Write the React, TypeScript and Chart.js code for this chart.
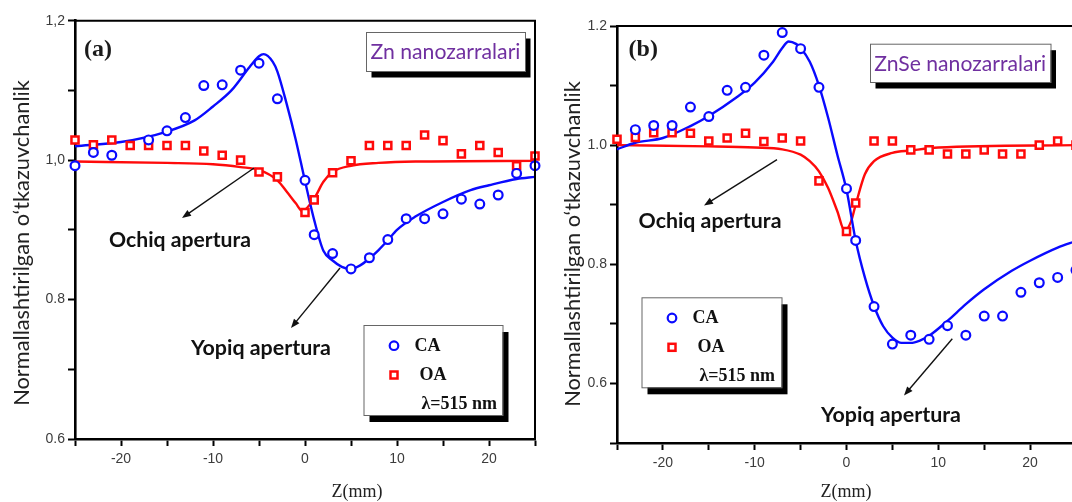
import React, { useEffect, useRef } from 'react';
import { Chart, registerables } from 'chart.js';
Chart.register(...registerables);

// ---------- Panel (a): Zn nanozarralari ----------
const zCA_A = [-25, -23, -21, -17, -15, -13, -11, -9, -7, -5, -3, 0, 1, 3, 5, 7, 9, 11, 13, 15, 17, 19, 21, 23, 25];
const caA = [0.992, 1.011, 1.007, 1.029, 1.042, 1.061, 1.107, 1.108, 1.129, 1.139, 1.088, 0.971, 0.893, 0.866, 0.844, 0.860, 0.886, 0.916, 0.916, 0.923, 0.944, 0.937, 0.950, 0.981, 0.992];
const zOA_A = [-25, -23, -21, -19, -17, -15, -13, -11, -9, -7, -5, -3, 0, 1, 3, 5, 7, 9, 11, 13, 15, 17, 19, 21, 23, 25];
const oaA = [1.029, 1.022, 1.029, 1.021, 1.021, 1.021, 1.021, 1.013, 1.007, 1.000, 0.983, 0.976, 0.925, 0.943, 0.982, 0.999, 1.021, 1.021, 1.021, 1.036, 1.028, 1.009, 1.021, 1.011, 0.992, 1.006];
const zFitCA_A = [-25, -20, -15, -12, -10, -8, -6, -5, -4.5, -3.5, -3, -2, -1, 0, 1, 2, 3, 4, 5, 6, 7, 8, 9, 10, 12, 15, 18, 20, 23, 25];
const fitCA_A = [1.020, 1.026, 1.041, 1.057, 1.077, 1.100, 1.134, 1.149, 1.152, 1.141, 1.127, 1.081, 1.029, 0.970, 0.914, 0.870, 0.856, 0.847, 0.844, 0.849, 0.859, 0.871, 0.885, 0.900, 0.919, 0.940, 0.957, 0.964, 0.973, 0.976];
const zFitOA_A = [-25, -15, -10, -7, -5, -3, -2, -1, -0.3, 1, 2, 3, 5, 8, 12, 25];
const fitOA_A = [0.998, 0.996, 0.994, 0.990, 0.986, 0.971, 0.955, 0.938, 0.927, 0.945, 0.969, 0.983, 0.992, 0.996, 0.998, 0.999];

// ---------- Panel (b): ZnSe nanozarralari ----------
const zCA_B = [-23, -21, -19, -17, -15, -13, -11, -9, -7, -5, -3, 0, 1, 3, 5, 7, 9, 11, 13, 15, 17, 19, 21, 23, 25];
const caB = [1.026, 1.033, 1.033, 1.064, 1.048, 1.092, 1.097, 1.151, 1.189, 1.162, 1.097, 0.927, 0.840, 0.729, 0.666, 0.681, 0.674, 0.697, 0.681, 0.713, 0.713, 0.753, 0.769, 0.778, 0.790];
const zOA_B = [-25, -23, -21, -19, -17, -15, -13, -11, -9, -7, -5, -3, 0, 1, 3, 5, 7, 9, 11, 13, 15, 17, 19, 21, 23, 25];
const oaB = [1.010, 1.013, 1.021, 1.021, 1.020, 1.007, 1.012, 1.020, 1.006, 1.012, 1.007, 0.940, 0.855, 0.903, 1.007, 1.007, 0.992, 0.992, 0.985, 0.985, 0.992, 0.985, 0.985, 1.000, 1.007, 1.000];
const zFitCA_B = [-25, -23, -20, -17, -15, -12, -10, -8, -7, -6.3, -5.5, -5, -4, -3, -2, -1, 0, 1, 2, 3, 4, 5, 6, 7, 8, 9, 11, 13, 15, 18, 20, 23, 25];
const fitCA_B = [0.993, 1.004, 1.012, 1.032, 1.049, 1.080, 1.105, 1.140, 1.163, 1.174, 1.170, 1.163, 1.140, 1.100, 1.046, 0.984, 0.925, 0.840, 0.778, 0.730, 0.696, 0.677, 0.668, 0.668, 0.672, 0.680, 0.705, 0.733, 0.758, 0.789, 0.806, 0.828, 0.839];
const zFitOA_B = [-25, -15, -10, -7, -5, -4, -3, -2, -1, -0.2, 0.5, 1, 2, 3, 5, 7, 10, 25];
const fitOA_B = [1.000, 0.998, 0.996, 0.993, 0.984, 0.973, 0.956, 0.928, 0.889, 0.856, 0.872, 0.900, 0.951, 0.973, 0.987, 0.991, 0.996, 1.000];

// ---------- Tick labels ----------
const xTickVals = [-20, -10, 0, 10, 20];
const yTickValsA = [0.6, 0.8, 1.0, 1.2];
const yTickLabelsA = ['0.6', '0.8', '1,0', '1,2'];
const yTickValsB = [0.6, 0.8, 1.0, 1.2];
const yTickLabelsB = ['0.6', '0.8', '1.0', '1.2'];

const BLUE = '#0a0aff';
const RED = '#ff0a0a';
const H = 502;

const pts = (xs: number[], ys: number[]) => xs.map((x, i) => ({ x, y: ys[i] }));

function fitText(ctx: CanvasRenderingContext2D, text: string, font: (s: number) => string, targetW: number, x: number, y: number, color: string, align: CanvasTextAlign = 'center') {
  ctx.font = font(100);
  const w = ctx.measureText(text).width;
  const size = (100 * targetW) / w;
  ctx.font = font(size);
  ctx.fillStyle = color;
  ctx.textAlign = align;
  ctx.textBaseline = 'middle';
  ctx.fillText(text, x, y);
}

function arrow(ctx: CanvasRenderingContext2D, x1: number, y1: number, x2: number, y2: number) {
  const a = Math.atan2(y2 - y1, x2 - x1);
  const L = 9, W = 3.5;
  ctx.strokeStyle = '#111';
  ctx.lineWidth = 1.4;
  ctx.beginPath();
  ctx.moveTo(x1, y1);
  ctx.lineTo(x2 - Math.cos(a) * L * 0.8, y2 - Math.sin(a) * L * 0.8);
  ctx.stroke();
  ctx.fillStyle = '#111';
  ctx.beginPath();
  ctx.moveTo(x2, y2);
  ctx.lineTo(x2 - Math.cos(a) * L - Math.sin(a) * W, y2 - Math.sin(a) * L + Math.cos(a) * W);
  ctx.lineTo(x2 - Math.cos(a) * L + Math.sin(a) * W, y2 - Math.sin(a) * L - Math.cos(a) * W);
  ctx.closePath();
  ctx.fill();
}

function shadowBox(ctx: CanvasRenderingContext2D, x: number, y: number, w: number, h: number, dx: number, dy: number) {
  ctx.fillStyle = '#000';
  ctx.fillRect(x + dx, y + dy, w, h);
  ctx.fillStyle = '#fff';
  ctx.fillRect(x, y, w, h);
  ctx.strokeStyle = '#666';
  ctx.lineWidth = 1;
  ctx.strokeRect(x + 0.5, y + 0.5, w, h);
}

type Deco = {
  tag: string; tagX: number; tagY: number;
  boxText: string; box: number[]; boxTextW: number;
  ochiq: number[]; ochiqArrow: number[];
  yopiq: number[]; yopiqArrow: number[];
  legend: number[];
  yTitle: number[];
  xTitle: number[];
};

type Panel = {
  left: number; width: number;
  area: { l: number; r: number; t: number; b: number };
  yMin: number; yMax: number;
  yVals: number[]; yLabels: string[];
  ca: { x: number; y: number }[]; oa: { x: number; y: number }[];
  fitCa: { x: number; y: number }[]; fitOa: { x: number; y: number }[];
  deco: Deco;
};

const panels: Panel[] = [
  {
    left: 0, width: 545,
    area: { l: 75, r: 535, t: 20.7, b: 439 },
    yMin: 0.6, yMax: 1.2, yVals: yTickValsA, yLabels: yTickLabelsA,
    ca: pts(zCA_A, caA), oa: pts(zOA_A, oaA), fitCa: pts(zFitCA_A, fitCA_A), fitOa: pts(zFitOA_A, fitOA_A),
    deco: {
      tag: '(a)', tagX: 84, tagY: 50,
      boxText: 'Zn nanozarralari', box: [366, 32, 159, 39], boxTextW: 150,
      ochiq: [180, 240, 142], ochiqArrow: [254, 168, 182, 218],
      yopiq: [261, 348, 140], yopiqArrow: [340, 268, 291, 328],
      legend: [363.5, 325, 139, 90],
      yTitle: [22, 243, 326],
      xTitle: [357, 492, 51],
    },
  },
  {
    left: 545, width: 545,
    area: { l: 617, r: 1076, t: 26, b: 443 },
    yMin: 0.5, yMax: 1.2, yVals: yTickValsB, yLabels: yTickLabelsB,
    ca: pts(zCA_B, caB), oa: pts(zOA_B, oaB), fitCa: pts(zFitCA_B, fitCA_B), fitOa: pts(zFitOA_B, fitOA_B),
    deco: {
      tag: '(b)', tagX: 628.6, tagY: 49.4,
      boxText: 'ZnSe nanozarralari', box: [870, 43.7, 180.5, 38.3], boxTextW: 172,
      ochiq: [710, 221.5, 143], ochiqArrow: [777, 159.7, 704, 205.5],
      yopiq: [891, 415, 140], yopiqArrow: [952.3, 338.8, 904, 395.5],
      legend: [641.5, 297.3, 140, 90],
      yTitle: [573, 244, 326],
      xTitle: [846, 492, 51],
    },
  },
];

function makeDecoPlugin(p: Panel) {
  return {
    id: 'deco',
    afterDraw(chart: any) {
      const ctx: CanvasRenderingContext2D = chart.ctx;
      const ca = chart.chartArea;
      const d = p.deco;
      ctx.save();
      ctx.translate(-p.left, 0);
      const ox = p.left;
      // frame (top & right)
      ctx.strokeStyle = '#000';
      ctx.lineWidth = 2;
      ctx.beginPath();
      ctx.moveTo(ca.left + ox, ca.top);
      ctx.lineTo(ca.right + ox, ca.top);
      ctx.lineTo(ca.right + ox, ca.bottom);
      ctx.stroke();

      // tag
      ctx.font = 'bold 24px "Liberation Serif"';
      ctx.fillStyle = '#1a1a1a';
      ctx.textAlign = 'left';
      ctx.textBaseline = 'middle';
      ctx.fillText(d.tag, d.tagX, d.tagY);

      // sample name box
      const [bx, by, bw, bh] = d.box;
      shadowBox(ctx, bx, by, bw, bh, 5.5, 6.5);
      fitText(ctx, d.boxText, (s) => `${s}px "Lato"`, d.boxTextW, bx + bw / 2, by + bh / 2 + 1, '#7030a0');

      // annotations
      fitText(ctx, 'Ochiq apertura', (s) => `bold ${s}px "Lato"`, d.ochiq[2], d.ochiq[0], d.ochiq[1], '#111');
      arrow(ctx, d.ochiqArrow[0], d.ochiqArrow[1], d.ochiqArrow[2], d.ochiqArrow[3]);
      fitText(ctx, 'Yopiq apertura', (s) => `bold ${s}px "Lato"`, d.yopiq[2], d.yopiq[0], d.yopiq[1], '#111');
      arrow(ctx, d.yopiqArrow[0], d.yopiqArrow[1], d.yopiqArrow[2], d.yopiqArrow[3]);

      // legend
      const [lx, ly, lw, lh] = d.legend;
      shadowBox(ctx, lx, ly, lw, lh, 6, 7);
      ctx.strokeStyle = BLUE;
      ctx.lineWidth = 2.2;
      ctx.beginPath();
      ctx.arc(lx + 30.5, ly + 20.7, 4.3, 0, Math.PI * 2);
      ctx.stroke();
      ctx.strokeStyle = RED;
      ctx.lineWidth = 2.5;
      ctx.strokeRect(lx + 30.5 - 3.5, ly + 50 - 3.5, 7, 7);
      ctx.fillStyle = '#111';
      ctx.font = 'bold 18px "Liberation Serif"';
      ctx.textAlign = 'left';
      ctx.textBaseline = 'middle';
      ctx.fillText('CA', lx + 51, ly + 21);
      ctx.fillText('OA', lx + 56, ly + 50);
      ctx.fillText('λ=515 nm', lx + 58, ly + 79.5);

      // axis titles
      ctx.save();
      ctx.translate(d.yTitle[0], d.yTitle[1]);
      ctx.rotate(-Math.PI / 2);
      fitText(ctx, 'Normallashtirilgan o‘tkazuvchanlik', (s) => `${s}px "Lato"`, d.yTitle[2], 0, 0, '#222');
      ctx.restore();
      fitText(ctx, 'Z(mm)', (s) => `${s}px "Liberation Serif"`, d.xTitle[2], d.xTitle[0], d.xTitle[1], '#222');
      ctx.restore();
    },
  };
}

function PanelChart({ p }: { p: Panel }) {
  const ref = useRef<HTMLCanvasElement>(null);
  useEffect(() => {
    if (!ref.current) return;
    const tickFont = { family: '"Liberation Sans"', size: 14 };
    const chart = new Chart(ref.current, {
      type: 'scatter',
      data: {
        datasets: [
          { type: 'line', data: p.fitCa, borderColor: BLUE, borderWidth: 2.4, pointRadius: 0, cubicInterpolationMode: 'monotone', fill: false, order: 3 } as any,
          { type: 'line', data: p.fitOa, borderColor: RED, borderWidth: 2.4, pointRadius: 0, cubicInterpolationMode: 'monotone', fill: false, order: 4 } as any,
          { data: p.oa, pointStyle: 'rect', pointRadius: 5, pointBorderWidth: 2.5, borderColor: RED, backgroundColor: '#fff', order: 2, clip: false } as any,
          { data: p.ca, pointStyle: 'circle', pointRadius: 4.4, pointBorderWidth: 2.2, borderColor: BLUE, backgroundColor: '#fff', order: 1, clip: false } as any,
        ],
      },
      options: {
        responsive: false,
        animation: false,
        devicePixelRatio: 1,
        layout: { padding: { top: p.area.t, right: p.left + p.width - p.area.r, left: 0, bottom: 0 } },
        plugins: { legend: { display: false }, tooltip: { enabled: false } },
        scales: {
          x: {
            type: 'linear', min: -25, max: 25,
            ticks: {
              stepSize: 5, autoSkip: false, maxRotation: 0, padding: 5, color: '#3c3c3c', font: tickFont,
              callback: (v: any) => (xTickVals.some((t) => Math.abs(t - v) < 1e-6) ? String(Math.round(v)) : ''),
            },
            grid: { drawOnChartArea: false, drawTicks: true, tickLength: 7, tickColor: '#000', tickWidth: 2 },
            border: { color: '#000', width: 2.6 },
            afterFit: (s: any) => { s.height = H - p.area.b; },
          },
          y: {
            type: 'linear', min: p.yMin, max: p.yMax,
            ticks: {
              stepSize: 0.1, autoSkip: false, padding: 3, color: '#3c3c3c', font: tickFont,
              callback: (v: any) => {
                const i = p.yVals.findIndex((t) => Math.abs(t - v) < 1e-6);
                return i >= 0 ? p.yLabels[i] : '';
              },
            },
            grid: { drawOnChartArea: false, drawTicks: true, tickLength: 7, tickColor: '#000', tickWidth: 2 },
            border: { color: '#000', width: 2.6 },
            afterFit: (s: any) => { s.width = p.area.l - p.left; },
          },
        },
      } as any,
      plugins: [makeDecoPlugin(p)],
    });
    return () => chart.destroy();
  }, [p]);
  return (
    <canvas
      ref={ref}
      width={p.width}
      height={H}
      style={{ position: 'absolute', left: p.left, top: 0, width: p.width, height: H }}
    />
  );
}

export default function App() {
  return (
    <div style={{ position: 'fixed', left: 0, top: 0, width: 1072, height: H, overflow: 'hidden', background: '#fff' }}>
      {panels.map((p, i) => (
        <PanelChart key={i} p={p} />
      ))}
    </div>
  );
}
